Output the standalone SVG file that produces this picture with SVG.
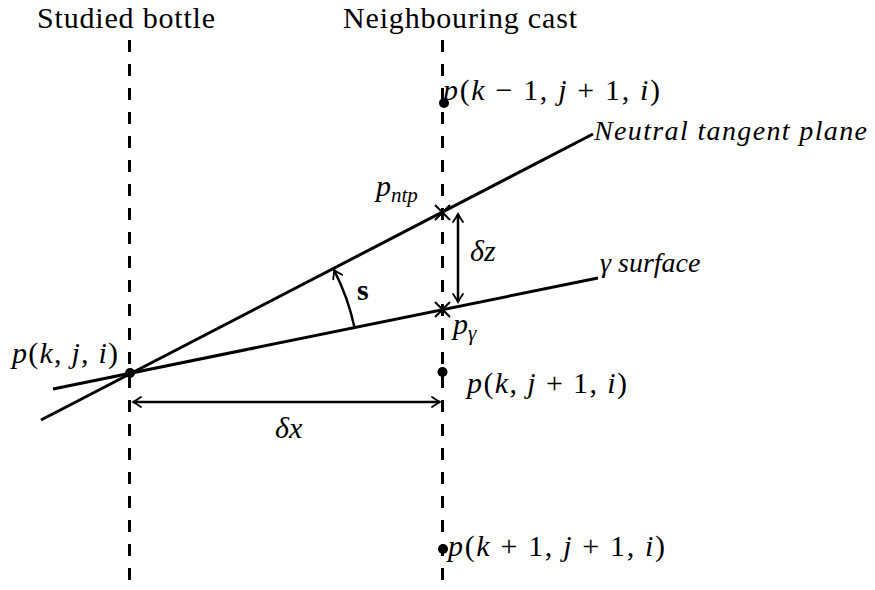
<svg xmlns="http://www.w3.org/2000/svg" width="875" height="590" viewBox="0 0 875 590" font-family="'Liberation Serif', 'Times New Roman', Times, 'DejaVu Serif', serif" font-size="30">
<style>
.i{font-style:italic}
.dash{stroke:#000;stroke-width:3;stroke-dasharray:12 12;fill:none}
.ln{stroke:#000;stroke-width:3;fill:none}
.ar{stroke:#000;stroke-width:2.5;fill:none}
.x{stroke:#000;stroke-width:2;fill:none}
</style>
<defs>
<marker id="ah" markerUnits="userSpaceOnUse" markerWidth="20" markerHeight="20" viewBox="-10 -10 20 20" refX="0" refY="0" orient="auto-start-reverse">
<path d="M -8 -5 Q -3 -1.5 0 0 Q -3 1.5 -8 5" stroke="#000" stroke-width="1.8" fill="none" stroke-linecap="round"/>
</marker>
</defs>
<g id="columns">
<line class="dash" x1="129.5" y1="40" x2="129.5" y2="590"/>
<line class="dash" x1="442.5" y1="40" x2="442.5" y2="590"/>
</g>
<g id="titles">
<text x="37" y="28" textLength="178">Studied bottle</text>
<text x="343" y="28" textLength="234">Neighbouring cast</text>
</g>
<g id="connectors">
<line id="ntp-line" class="ln" x1="41" y1="420" x2="593" y2="134"/>
<line id="gamma-line" class="ln" x1="53" y1="389" x2="598" y2="278"/>
<line id="dx-arrow" class="ar" x1="133" y1="402" x2="440" y2="402" marker-start="url(#ah)" marker-end="url(#ah)"/>
<line id="dz-arrow" class="ar" x1="458" y1="214" x2="458" y2="302" marker-start="url(#ah)" marker-end="url(#ah)"/>
<path id="s-arc" class="ar" d="M 354.5 327.5 A 230 230 0 0 0 334 270" marker-end="url(#ah)"/>
</g>
<g id="node-pkji">
<circle cx="130" cy="373" r="5"/>
<text x="12" y="363" textLength="106"><tspan class="i">p</tspan>(<tspan class="i">k</tspan>, <tspan class="i">j</tspan>, <tspan class="i">i</tspan>)</text>
</g>
<g id="node-top">
<circle cx="444" cy="103" r="5"/>
<text x="443" y="100" textLength="217"><tspan class="i">p</tspan>(<tspan class="i">k</tspan> − 1, <tspan class="i">j</tspan> + 1, <tspan class="i">i</tspan>)</text>
</g>
<g id="node-mid">
<circle cx="442.5" cy="372" r="5"/>
<text x="467" y="393" textLength="160"><tspan class="i">p</tspan>(<tspan class="i">k</tspan>, <tspan class="i">j</tspan> + 1, <tspan class="i">i</tspan>)</text>
</g>
<g id="node-bottom">
<circle cx="443" cy="549" r="5"/>
<text x="448" y="556" textLength="217"><tspan class="i">p</tspan>(<tspan class="i">k</tspan> + 1, <tspan class="i">j</tspan> + 1, <tspan class="i">i</tspan>)</text>
</g>
<g id="node-pntp">
<path class="x" d="M 435 205 L 450 220 M 450 205 L 435 220"/>
<text x="376" y="196"><tspan class="i">p</tspan><tspan class="i" font-size="21" dy="6">ntp</tspan></text>
</g>
<g id="node-pgamma">
<path class="x" d="M 435 302 L 450 317 M 450 302 L 435 317"/>
<text x="453" y="334"><tspan class="i">p</tspan><tspan class="i" font-size="21" dy="6">γ</tspan></text>
</g>
<g id="labels">
<text x="470" y="261"><tspan class="i">δz</tspan></text>
<text x="275" y="438"><tspan class="i">δx</tspan></text>
<text x="357" y="300" font-weight="bold">s</text>
<text class="i" x="594" y="140" font-size="28" textLength="273">Neutral tangent plane</text>
<text x="600" y="272" font-size="28"><tspan class="i">γ</tspan> <tspan class="i">surface</tspan></text>
</g>
</svg>
